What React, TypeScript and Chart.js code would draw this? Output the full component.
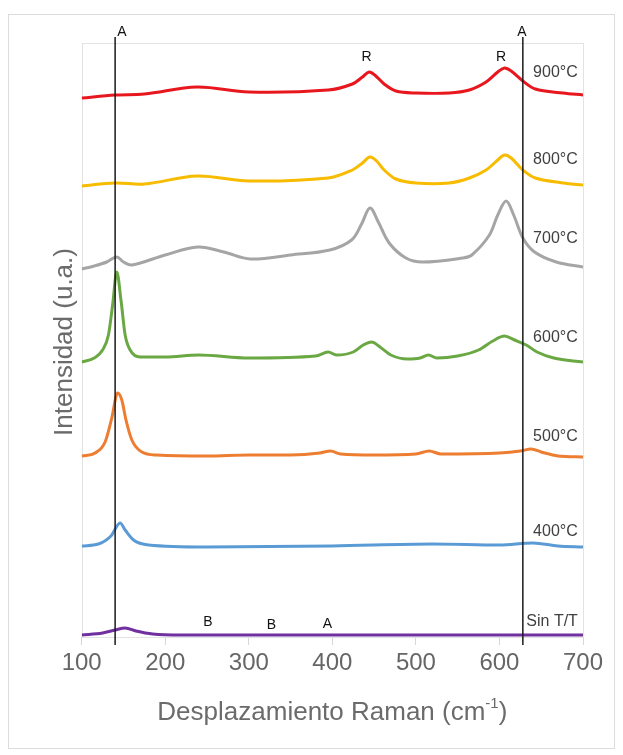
import { useEffect, useRef } from "react";
import { Chart, registerables } from "chart.js";

Chart.register(...registerables);

// Series (offset Raman spectra, arbitrary units)
const seriesNames = ["900°C", "800°C", "700°C", "600°C", "500°C", "400°C", "Sin T/T"];
const seriesColors = ["#e8161d", "#f7bb00", "#a5a5a5", "#6aa843", "#ed7d31", "#5b9bd5", "#7030a0"];
const seriesSmooth = ["tension", "tension", "tension", "monotone", "monotone", "monotone", "monotone"];

const x900 = [100, 140, 175, 238, 300, 395, 424, 436, 444, 452, 462, 476, 500, 540, 564, 584, 598, 606, 614, 628, 643, 676, 700];
const y900 = [539, 542, 543, 550, 545, 547, 553, 560, 565, 561, 553, 546, 544, 544, 547, 555, 565, 569, 566, 556, 548, 544, 542];

const x800 = [100, 140, 175, 238, 300, 395, 424, 436, 445, 453, 462, 476, 500, 540, 564, 584, 598, 606, 614, 628, 643, 676, 700];
const y800 = [451, 454, 453, 461, 456, 459, 467, 474, 480, 476, 467, 458, 454, 454, 459, 467, 477, 482, 479, 467, 459, 454, 452];

const x700 = [100, 115, 130, 142, 150, 160, 200, 239, 270, 302, 350, 397, 423, 435, 445, 455, 468, 488, 508, 556, 567, 588, 598, 608, 617, 628, 642, 668, 700];
const y700 = [368, 371, 375, 380, 375, 372, 382, 390, 385, 378, 382, 387, 397, 413, 429, 415, 394, 379, 375, 379, 382, 402, 422, 436, 422, 399, 385, 375, 370];

const x600 = [100, 115, 125, 132, 137, 142, 147, 152, 158, 170, 200, 240, 300, 380, 395, 405, 425, 437, 447, 457, 470, 490, 505, 515, 525, 550, 575, 592, 606, 618, 632, 645, 665, 700];
const y600 = [275, 279, 287, 302, 332, 365, 337, 302, 287, 280, 280, 282, 279, 281, 285, 282, 285, 292, 295, 290, 282, 278, 279, 282, 279, 281, 287, 296, 301, 297, 292, 285, 279, 275];

const x500 = [100, 116, 128, 136, 143, 148, 153, 160, 172, 190, 250, 300, 350, 385, 398, 410, 450, 500, 516, 530, 600, 625, 638, 650, 670, 700];
const y500 = [181, 184, 195, 219, 244, 237, 217, 197, 185, 182, 181, 182, 182, 184, 186, 183, 182, 183, 186, 183, 184, 186, 188, 185, 181, 180];

const x400 = [100, 120, 135, 146, 152, 162, 180, 250, 400, 520, 600, 640, 670, 700];
const y400 = [91, 93, 101, 114, 107, 97, 92, 90, 91, 93, 92, 94, 91, 90];

const xSin = [100, 125, 140, 152, 165, 185, 220, 400, 600, 700];
const ySin = [2, 4, 7, 9, 6, 3, 2, 2, 2, 2];

const seriesX = [x900, x800, x700, x600, x500, x400, xSin];
const seriesY = [y900, y800, y700, y600, y500, y400, ySin];

// Series name labels (data coordinates)
const seriesLabelX = [667, 667, 667, 667, 667, 667, 663];
const seriesLabelY = [564, 477, 398, 299, 200, 105, 15];

// Reference lines and band labels
const refLines = [140, 628];
const bandLabels = ["A", "A", "R", "R", "B", "B", "A"];
const bandLabelX = [148, 627, 441, 602, 251, 327, 394];
const bandLabelY = [605, 605, 580, 580, 15, 12, 13];

const xTitle = "Desplazamiento Raman (cm";
const xTitleSup = "-1";
const yTitle = "Intensidad (u.a.)";

const FONT = "'Liberation Sans', Arial, sans-serif";

const overlay = {
  id: "overlay",
  beforeDatasetsDraw(chart: any) {
    const { ctx, chartArea: a } = chart;
    ctx.save();
    ctx.strokeStyle = "#e3e3e3";
    ctx.lineWidth = 1;
    ctx.strokeRect(Math.round(a.left) + 0.5, Math.round(a.top) + 0.5, Math.round(a.right - a.left), Math.round(a.bottom - a.top));
    ctx.restore();
  },
  afterDatasetsDraw(chart: any) {
    const { ctx, chartArea: a, scales } = chart;
    const xs = scales.x;
    const ys = scales.y;
    ctx.save();
    // vertical reference lines
    ctx.strokeStyle = "#1a1a1a";
    ctx.lineWidth = 1.5;
    refLines.forEach((v) => {
      const px = xs.getPixelForValue(v);
      ctx.beginPath();
      ctx.moveTo(px, a.top - 6);
      ctx.lineTo(px, a.bottom + 8);
      ctx.stroke();
    });
    // band labels
    ctx.fillStyle = "#111";
    ctx.font = `14px ${FONT}`;
    ctx.textAlign = "center";
    ctx.textBaseline = "middle";
    bandLabels.forEach((t, i) => {
      ctx.fillText(t, xs.getPixelForValue(bandLabelX[i]), ys.getPixelForValue(bandLabelY[i]));
    });
    // series labels
    ctx.fillStyle = "#404040";
    ctx.font = `16px ${FONT}`;
    seriesNames.forEach((t, i) => {
      ctx.fillText(t, xs.getPixelForValue(seriesLabelX[i]), ys.getPixelForValue(seriesLabelY[i]));
    });
    // y title
    ctx.fillStyle = "#6b6b6b";
    ctx.font = `26px ${FONT}`;
    ctx.save();
    ctx.translate(a.left - 17, (a.top + a.bottom) / 2 + 2);
    ctx.rotate(-Math.PI / 2);
    ctx.fillText(yTitle, 0, 0);
    ctx.restore();
    // x title with superscript
    const mainFont = `26px ${FONT}`;
    const supFont = `15px ${FONT}`;
    ctx.font = mainFont;
    const w1 = ctx.measureText(xTitle).width;
    const w3 = ctx.measureText(")").width;
    ctx.font = supFont;
    const w2 = ctx.measureText(xTitleSup).width;
    const total = w1 + w2 + w3;
    let sx = (a.left + a.right) / 2 - total / 2;
    const ty = a.bottom + 76;
    ctx.textAlign = "left";
    ctx.font = mainFont;
    ctx.fillText(xTitle, sx, ty);
    sx += w1;
    ctx.font = supFont;
    ctx.fillText(xTitleSup, sx, ty - 9);
    sx += w2;
    ctx.font = mainFont;
    ctx.fillText(")", sx, ty);
    ctx.restore();
  },
};

export default function App() {
  const ref = useRef<HTMLCanvasElement | null>(null);
  useEffect(() => {
    if (!ref.current) return;
    const chart = new Chart(ref.current, {
      type: "line",
      data: {
        datasets: seriesNames.map((name, i) => ({
          label: name,
          data: seriesX[i].map((xv, j) => ({ x: xv, y: seriesY[i][j] })),
          borderColor: seriesColors[i],
          borderWidth: 3,
          pointRadius: 0,
          cubicInterpolationMode: seriesSmooth[i] === "monotone" ? ("monotone" as const) : ("default" as const),
          tension: seriesSmooth[i] === "monotone" ? 0 : 0.35,
          fill: false,
        })),
      },
      options: {
        animation: false,
        responsive: false,
        devicePixelRatio: 1,
        layout: { padding: { left: 73.7, right: 32, top: 35, bottom: 0 } },
        plugins: { legend: { display: false }, tooltip: { enabled: false } },
        scales: {
          x: {
            type: "linear",
            min: 100,
            max: 700,
            ticks: {
              stepSize: 100,
              color: "#666",
              font: { size: 24, family: FONT },
              padding: 4,
              maxRotation: 0,
            },
            grid: { display: true, drawOnChartArea: false, drawTicks: true, tickLength: 8, color: "#d6d6d6" },
            border: { display: true, color: "#d6d6d6" },
            afterFit: (scale: any) => {
              scale.height = 112;
            },
          },
          y: {
            display: false,
            min: 0,
            max: 594,
          },
        },
      },
      plugins: [overlay],
    });
    return () => chart.destroy();
  }, []);

  return (
    <div style={{ position: "relative", width: 607, height: 741 }}>
      <div
        style={{
          position: "absolute",
          left: 0,
          top: 6,
          width: 607,
          height: 735,
          border: "1px solid #dcdcdc",
          boxSizing: "border-box",
        }}
      />
      <canvas
        ref={ref}
        width={607}
        height={741}
        style={{ position: "absolute", left: 0, top: 0, width: 607, height: 741 }}
      />
    </div>
  );
}
